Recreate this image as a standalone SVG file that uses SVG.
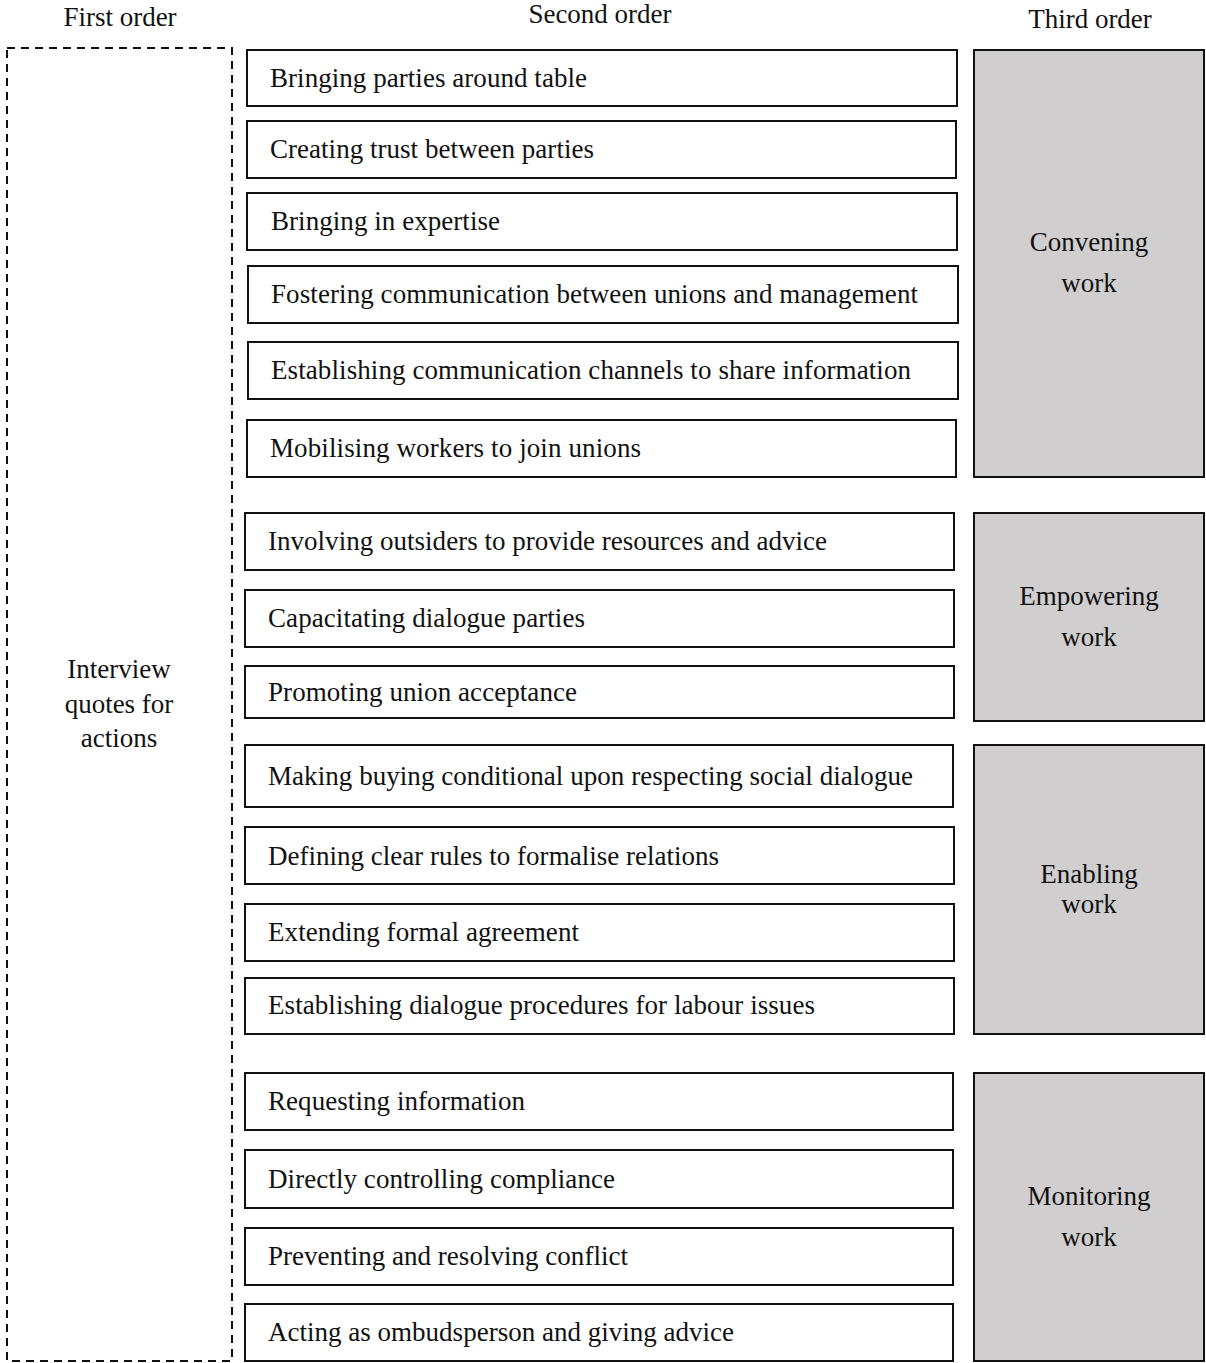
<svg xmlns="http://www.w3.org/2000/svg" width="1206" height="1363" viewBox="0 0 1206 1363">
<style>
text{font-family:"Liberation Serif","Times New Roman",serif;font-size:27px;fill:#111}
.hdr{text-anchor:middle;font-size:27px}
.mid{text-anchor:middle}
.box{fill:#fff;stroke:#111;stroke-width:2}
.cat{fill:#d0cecf;stroke:#111;stroke-width:2}
.dash{fill:none;stroke:#111;stroke-width:2;stroke-dasharray:8,6}
</style>
<rect width="1206" height="1363" fill="#fff"/>
<g id="headers">
<text class="hdr" x="120" y="26">First order</text>
<text class="hdr" x="600" y="23">Second order</text>
<text class="hdr" x="1090" y="28">Third order</text>
</g>
<g id="first-order">
<rect class="dash" x="7" y="48" width="225" height="1313"/>
<text class="mid" x="119" y="678">Interview</text>
<text class="mid" x="119" y="713">quotes for</text>
<text class="mid" x="119" y="747">actions</text>
</g>
<g id="n1"><rect class="box" x="247" y="50" width="710" height="56"/><text x="270" y="87" textLength="317" lengthAdjust="spacing">Bringing parties around table</text></g>
<g id="n2"><rect class="box" x="247" y="121" width="709" height="57"/><text x="270" y="158" textLength="324" lengthAdjust="spacing">Creating trust between parties</text></g>
<g id="n3"><rect class="box" x="247" y="193" width="710" height="57"/><text x="271" y="230" textLength="229" lengthAdjust="spacing">Bringing in expertise</text></g>
<g id="n4"><rect class="box" x="248" y="266" width="710" height="57"/><text x="271" y="303" textLength="647" lengthAdjust="spacing">Fostering communication between unions and management</text></g>
<g id="n5"><rect class="box" x="248" y="342" width="710" height="57"/><text x="271" y="379" textLength="640" lengthAdjust="spacing">Establishing communication channels to share information</text></g>
<g id="n6"><rect class="box" x="247" y="420" width="709" height="57"/><text x="270" y="457" textLength="371" lengthAdjust="spacing">Mobilising workers to join unions</text></g>
<g id="n7"><rect class="box" x="245" y="513" width="709" height="57"/><text x="268" y="550" textLength="559" lengthAdjust="spacing">Involving outsiders to provide resources and advice</text></g>
<g id="n8"><rect class="box" x="245" y="590" width="709" height="57"/><text x="268" y="627" textLength="317" lengthAdjust="spacing">Capacitating dialogue parties</text></g>
<g id="n9"><rect class="box" x="245" y="666" width="709" height="52"/><text x="268" y="701" textLength="309" lengthAdjust="spacing">Promoting union acceptance</text></g>
<g id="n10"><rect class="box" x="245" y="745" width="708" height="62"/><text x="268" y="785" textLength="645" lengthAdjust="spacing">Making buying conditional upon respecting social dialogue</text></g>
<g id="n11"><rect class="box" x="245" y="827" width="709" height="57"/><text x="268" y="865" textLength="451" lengthAdjust="spacing">Defining clear rules to formalise relations</text></g>
<g id="n12"><rect class="box" x="245" y="904" width="709" height="57"/><text x="268" y="941" textLength="311" lengthAdjust="spacing">Extending formal agreement</text></g>
<g id="n13"><rect class="box" x="245" y="978" width="709" height="56"/><text x="268" y="1014" textLength="547" lengthAdjust="spacing">Establishing dialogue procedures for labour issues</text></g>
<g id="n14"><rect class="box" x="245" y="1073" width="708" height="57"/><text x="268" y="1110" textLength="257" lengthAdjust="spacing">Requesting information</text></g>
<g id="n15"><rect class="box" x="245" y="1150" width="708" height="58"/><text x="268" y="1188" textLength="347" lengthAdjust="spacing">Directly controlling compliance</text></g>
<g id="n16"><rect class="box" x="245" y="1228" width="708" height="57"/><text x="268" y="1265" textLength="360" lengthAdjust="spacing">Preventing and resolving conflict</text></g>
<g id="n17"><rect class="box" x="245" y="1304" width="708" height="57"/><text x="268" y="1341" textLength="466" lengthAdjust="spacing">Acting as ombudsperson and giving advice</text></g>
<g id="convening"><rect class="cat" x="974" y="50" width="230" height="427"/><text class="mid" x="1089" y="251">Convening</text><text class="mid" x="1089" y="292">work</text></g>
<g id="empowering"><rect class="cat" x="974" y="513" width="230" height="208"/><text class="mid" x="1089" y="605">Empowering</text><text class="mid" x="1089" y="646">work</text></g>
<g id="enabling"><rect class="cat" x="974" y="745" width="230" height="289"/><text class="mid" x="1089" y="883">Enabling</text><text class="mid" x="1089" y="913">work</text></g>
<g id="monitoring"><rect class="cat" x="974" y="1073" width="230" height="288"/><text class="mid" x="1089" y="1205">Monitoring</text><text class="mid" x="1089" y="1246">work</text></g>
<g id="connectors"></g>
</svg>
